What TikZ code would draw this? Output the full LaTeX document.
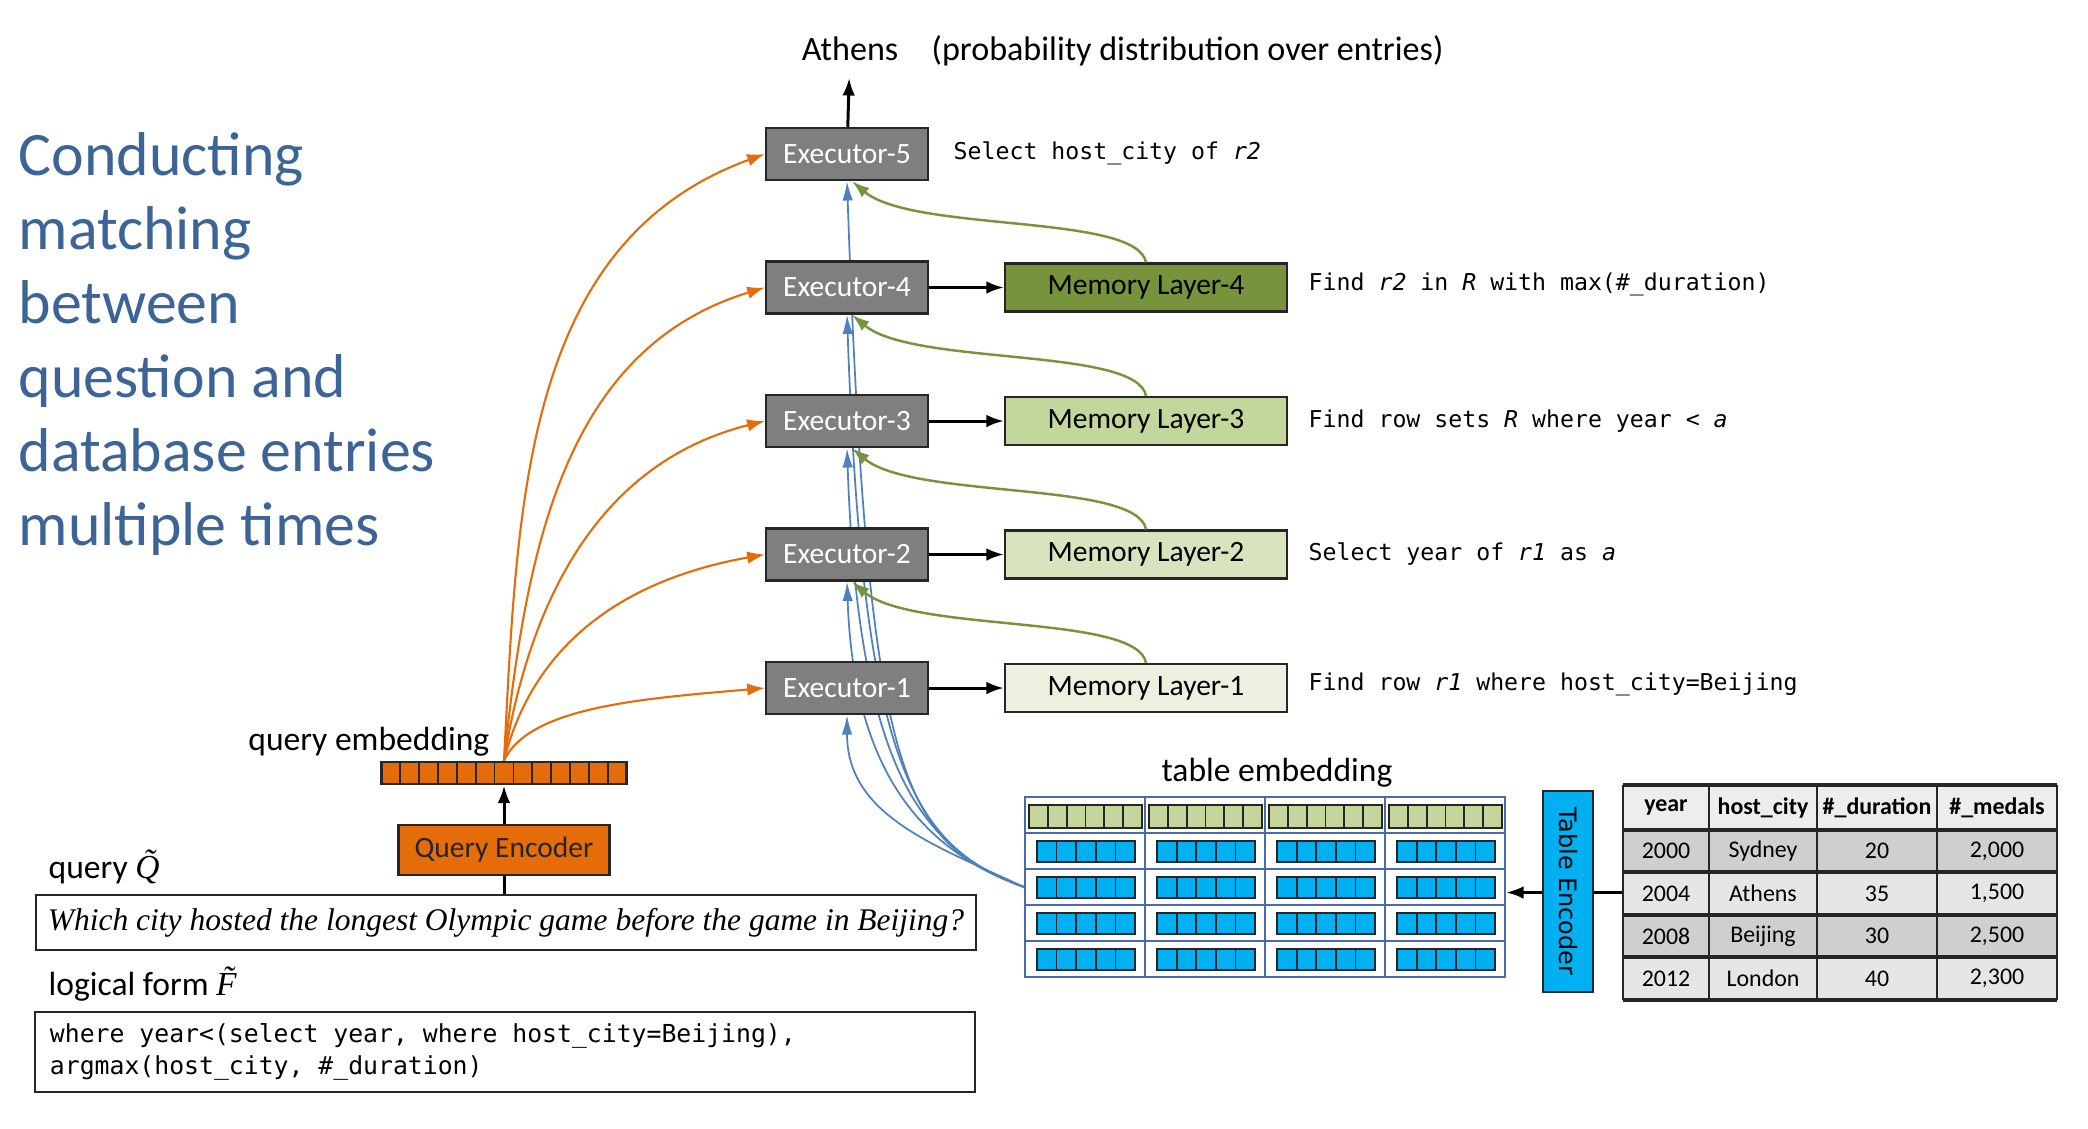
\documentclass[tikz,border=0pt]{standalone}
\usepackage{fontspec}
\setmainfont{Carlito}
\newfontfamily\monofont{DejaVu Sans Mono}
\newfontfamily\timesfont{Liberation Serif}
\newfontfamily\encfont{DejaVu Sans}
\usetikzlibrary{arrows.meta,backgrounds}
\definecolor{titleblue}{RGB}{60,100,150}
\definecolor{execgray}{RGB}{127,127,127}
\definecolor{edgedark}{RGB}{38,38,38}
\definecolor{qorange}{RGB}{228,108,10}
\definecolor{tblue}{RGB}{79,129,189}
\definecolor{memgreen}{RGB}{119,147,60}
\definecolor{memfour}{RGB}{119,147,60}
\definecolor{memthree}{RGB}{195,214,155}
\definecolor{memtwo}{RGB}{215,228,189}
\definecolor{memone}{RGB}{235,241,222}
\definecolor{gridblue}{RGB}{74,107,168}
\definecolor{cellblue}{RGB}{0,176,240}
\definecolor{cellgreen}{RGB}{195,214,155}
\definecolor{hdrgray}{RGB}{237,237,237}
\definecolor{rowdark}{RGB}{207,207,207}
\definecolor{rowlight}{RGB}{230,230,230}
\begin{document}
\begin{tikzpicture}
\tikzstyle{executor}=[draw=edgedark,fill=execgray,line width=0.7pt,minimum width=1.62cm,minimum height=0.52cm,inner sep=0pt,text=white,font=\fontsize{8.4}{10}\selectfont]
\tikzstyle{memory}=[draw=edgedark,line width=0.6pt,minimum width=2.82cm,minimum height=0.48cm,inner sep=0pt,font=\fontsize{8.4}{10}\selectfont]
\tikzstyle{note}=[anchor=west,inner sep=0pt,font=\monofont\fontsize{6.6}{8}\selectfont]
\tikzstyle{lbl}=[inner sep=0pt,font=\fontsize{9.55}{11}\selectfont]
\tikzstyle{cell}=[inner sep=0pt,font=\fontsize{6.8}{8}\selectfont]
\tikzstyle{flow}=[line width=0.85pt,-{Latex[length=5pt,width=3.6pt]}]
\tikzstyle{qarrow}=[draw=qorange,line width=0.6pt,-{Latex[length=5pt,width=3.6pt]}]
\tikzstyle{tarrow}=[draw=tblue,line width=0.5pt,-{Latex[length=5.5pt,width=3pt]}]
\tikzstyle{marrow}=[draw=memgreen,line width=0.7pt,-{Latex[length=5pt,width=3.4pt]}]
\useasboundingbox (0,0) rectangle (20.88,-11.28);

% title
\path (0.18,-1.32) node[anchor=north west,inner sep=0pt,align=left,text=titleblue,font=\fontsize{17.6}{21.05}\selectfont](title){Conducting\\matching\\between\\question and\\database entries\\multiple times};

% output
\path (8.50,-0.60) node[anchor=base,inner sep=0pt,font=\fontsize{9.7}{11}\selectfont](ans){Athens};
\path (9.31,-0.60) node[anchor=base west,inner sep=0pt,font=\fontsize{9.7}{11}\selectfont](dist){(probability distribution over entries)};

% executors and memory layers
\path (8.47,-1.54) node[executor](ex5){Executor-5} (8.47,-2.875) node[executor](ex4){Executor-4} (8.47,-4.21) node[executor](ex3){Executor-3} (8.47,-5.545) node[executor](ex2){Executor-2} (8.47,-6.88) node[executor](ex1){Executor-1};
\path (11.46,-2.875) node[memory,fill=memfour](ml4){Memory Layer-4} (11.46,-4.21) node[memory,fill=memthree](ml3){Memory Layer-3} (11.46,-5.545) node[memory,fill=memtwo](ml2){Memory Layer-2} (11.46,-6.88) node[memory,fill=memone](ml1){Memory Layer-1};
\path (9.53,-1.53) node[note](n5){Select host\_city of {\itshape r2}};
\path (13.08,-2.84) node[note](n4){Find {\itshape r2} in {\itshape R} with max(\#\_duration)};
\path (13.08,-4.21) node[note](n3){Find row sets {\itshape R} where year < {\itshape a}};
\path (13.08,-5.545) node[note](n2){Select year of {\itshape r1} as {\itshape a}};
\path (13.08,-6.84) node[note](n1){Find row {\itshape r1} where host\_city=Beijing};
\draw[flow,shorten >=0.17cm] (ex5) -- (ans);
\draw[flow] (ex4) -- (ml4);
\draw[flow] (ex3) -- (ml3);
\draw[flow] (ex2) -- (ml2);
\draw[flow] (ex1) -- (ml1);
\draw[marrow] (ml4.north) to[out=100,in=-40,out distance=0.5cm,in distance=0.8cm] ([xshift=0.05cm]ex5.south);
\draw[marrow] (ml3.north) to[out=100,in=-40,out distance=0.5cm,in distance=0.8cm] ([xshift=0.05cm]ex4.south);
\draw[marrow] (ml2.north) to[out=100,in=-40,out distance=0.5cm,in distance=0.8cm] ([xshift=0.05cm]ex3.south);
\draw[marrow] (ml1.north) to[out=100,in=-40,out distance=0.5cm,in distance=0.8cm] ([xshift=0.05cm]ex2.south);

% query side
\path (5.04,-7.73) node[draw=edgedark,fill=qorange,line width=0.8pt,minimum width=2.45cm,minimum height=0.22cm,inner sep=0pt](qemb){};
\foreach \i in {1,...,12} \draw[edgedark,line width=0.5pt] ({3.815+0.1885*\i},-7.62) -- ++(0,-0.22);
\path (4.90,-7.505) node[lbl,anchor=base east](qembl){query embedding};
\path (5.04,-8.50) node[draw=edgedark,fill=qorange,line width=0.7pt,minimum width=2.11cm,minimum height=0.50cm,inner sep=0pt,text=black!85,font=\fontsize{8.4}{10}\selectfont](qenc){Query Encoder};
\path (0.48,-8.78) node[lbl,anchor=base west](ql){query {\timesfont\itshape\~{Q}}};
\path (5.06,-9.225) node[draw=edgedark,line width=0.7pt,minimum width=9.40cm,minimum height=0.55cm,inner sep=0pt,font=\timesfont\itshape\fontsize{8.96}{10}\selectfont](qbox){Which city hosted the longest Olympic game before the game in Beijing?};
\path (0.48,-9.95) node[lbl,anchor=base west](lfl){logical form {\timesfont\itshape\~{F}}};
\path (5.05,-10.52) node[draw=edgedark,line width=0.7pt,minimum width=9.40cm,minimum height=0.80cm,text width=9.1cm,inner xsep=0.15cm,align=left,font=\monofont\fontsize{7.05}{9.1}\selectfont](lfbox){\spaceskip=\fontdimen2\font\relax where year<(select year, where host\_city=Beijing),\\argmax(host\_city, \#\_duration)};
\draw[flow] (qenc) -- (qemb);
\draw[line width=0.85pt] (qenc.south) -- (qenc.south |- qbox.north);
\draw[qarrow] (qemb.north) to[out=65,in=185,out distance=0.6cm,in distance=1.2cm] (ex1.west);
\draw[qarrow] (qemb.north) to[out=76,in=190] (ex2.west);
\draw[qarrow] (qemb.north) to[out=81,in=194] (ex3.west);
\draw[qarrow] (qemb.north) to[out=84,in=197] (ex4.west);
\draw[qarrow] (qemb.north) to[out=87,in=200] (ex5.west);

% table embedding
\path (12.65,-8.87) node[draw=gridblue,line width=0.6pt,minimum width=4.80cm,minimum height=1.80cm,inner sep=0pt](temb){};
\foreach \c in {1,2,3} \draw[gridblue,line width=0.6pt] ({10.25+1.2*\c},-7.97) -- ++(0,-1.80);
\foreach \r in {1,...,4} \draw[gridblue,line width=0.6pt] (10.25,{-7.97-0.36*\r}) -- ++(4.80,0);
\foreach \c in {0,...,3}{
  \draw[fill=cellgreen,draw=edgedark,line width=0.8pt] ({10.29+1.2*\c},-8.05) rectangle ++(1.13,-0.23);
  \foreach \k in {1,...,5} \draw[edgedark,line width=0.5pt] ({10.29+1.2*\c+0.1883*\k},-8.05) -- ++(0,-0.23);
  \foreach \r in {1,...,4}{
    \draw[fill=cellblue,draw=edgedark,line width=0.8pt] ({10.37+1.2*\c},{-8.41-0.36*(\r-1)}) rectangle ++(0.98,-0.21);
    \foreach \k in {1,...,4} \draw[edgedark,line width=0.5pt] ({10.37+1.2*\c+0.196*\k},{-8.41-0.36*(\r-1)}) -- ++(0,-0.21);
  }
}
\path (12.77,-7.81) node[lbl,anchor=base](tembl){table embedding};

% table and encoder
\path (18.40,-8.925) node[minimum width=4.34cm,minimum height=2.15cm,inner sep=0pt](tbl){};
\fill[hdrgray] (16.23,-7.85) rectangle (20.57,-8.30);
\fill[rowdark] (16.23,-8.30) rectangle (20.57,-8.72);
\fill[rowlight] (16.23,-8.72) rectangle (20.57,-9.15);
\fill[rowdark] (16.23,-9.15) rectangle (20.57,-9.57);
\fill[rowlight] (16.23,-9.57) rectangle (20.57,-10.00);
\foreach \y in {7.85,8.30,8.72,9.15,9.57,10.00} \draw[edgedark,line width=0.9pt] (16.23,-\y) -- (20.57,-\y);
\foreach \x in {16.23,17.09,18.17,19.37,20.57} \draw[edgedark,line width=0.7pt] (\x,-7.85) -- (\x,-10.00);
\path (16.66,-8.075) node[cell,font=\bfseries\fontsize{6.8}{8}\selectfont](h1){year} (17.63,-8.075) node[cell,font=\bfseries\fontsize{6.8}{8}\selectfont](h2){host\_city} (18.77,-8.075) node[cell,font=\bfseries\fontsize{6.8}{8}\selectfont](h3){\#\_duration} (19.97,-8.075) node[cell,font=\bfseries\fontsize{6.8}{8}\selectfont](h4){\#\_medals};
\foreach \i/\y/\a/\b/\c/\d in {1/8.51/2000/Sydney/20/{2,000},2/8.935/2004/Athens/35/{1,500},3/9.36/2008/Beijing/30/{2,500},4/9.785/2012/London/40/{2,300}}{
  \path (16.66,-\y) node[cell](yr\i){\a} (17.63,-\y) node[cell](city\i){\b} (18.77,-\y) node[cell](dur\i){\c} (19.97,-\y) node[cell](med\i){\d};
}
\draw[flow] (tbl.west) -- (tbl.west -| temb.east);
\path (15.68,-8.915) node[draw=edgedark,fill=cellblue,line width=0.7pt,rotate=-90,minimum width=2.01cm,minimum height=0.50cm,inner sep=0pt,font=\encfont\fontsize{6.8}{8}\selectfont](tenc){Table Encoder};

% table to executors
\begin{scope}[on background layer]
\draw[tarrow] (temb.west) to[out=155,in=-90,out distance=1cm,in distance=1cm] (ex1.south);
\draw[tarrow] (temb.west) to[out=160,in=-88,out distance=1.0cm,in distance=2cm] (ex2.south);
\draw[tarrow] (temb.west) to[out=160,in=-88,out distance=1.1cm,in distance=3.2cm] (ex3.south);
\draw[tarrow] (temb.west) to[out=160,in=-88,out distance=1.2cm,in distance=4.5cm] (ex4.south);
\draw[tarrow] (temb.west) to[out=160,in=-88,out distance=1.3cm,in distance=6cm] (ex5.south);
\end{scope}
\end{tikzpicture}
\end{document}
